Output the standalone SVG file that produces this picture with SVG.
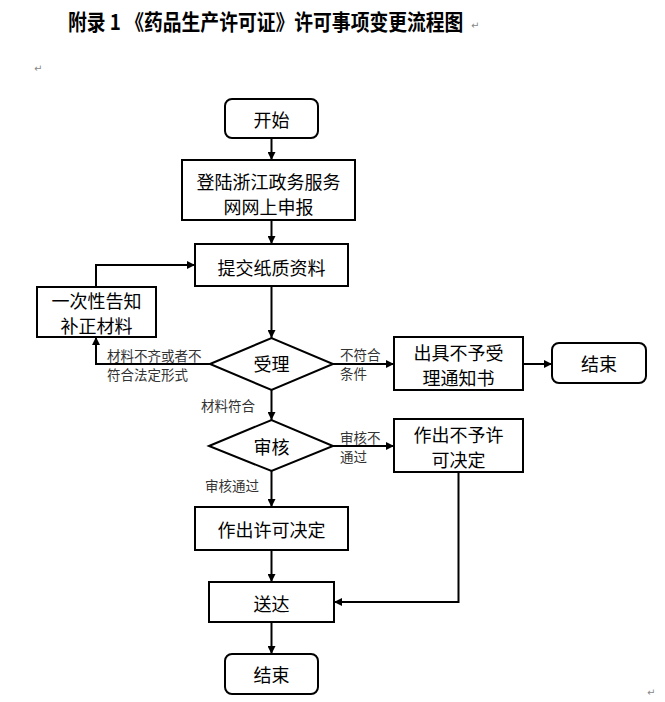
<svg xmlns="http://www.w3.org/2000/svg" width="665" height="702" viewBox="0 0 665 702">
<defs>
<marker id="ah" markerWidth="8" markerHeight="8" refX="8" refY="4" orient="auto" markerUnits="userSpaceOnUse">
<path d="M0,0 L8,4 L0,8 Z" fill="#000"/>
</marker>
<style>
.box{fill:#fff;stroke:#000;stroke-width:2}
.t{font-family:"Noto Sans CJK SC","Liberation Sans",sans-serif;font-size:18px;fill:#000;text-anchor:middle;dominant-baseline:central}
.l{font-family:"Noto Sans CJK SC","Liberation Sans",sans-serif;font-size:13.5px;fill:#333;dominant-baseline:central}
.c{fill:none;stroke:#000;stroke-width:2;marker-end:url(#ah)}
.pm{font-family:"DejaVu Sans",sans-serif;font-size:10px;fill:#888}
</style>
</defs>
<rect width="665" height="702" fill="#fff"/>
<text x="68" y="26.5" transform="scale(1,1.13)" font-family="Noto Sans CJK SC,Liberation Sans,sans-serif" font-size="18.8" font-weight="bold" fill="#000">附录 1 《药品生产许可证》许可事项变更流程图</text>
<text class="pm" x="471" y="29">↵</text>
<text class="pm" x="34" y="72">↵</text>
<text class="pm" x="647" y="696">↵</text>

<g id="connectors">
<path class="c" d="M271.5,139 V160"/>
<path class="c" d="M271.5,220 V244"/>
<path class="c" d="M271.5,286 V338"/>
<path class="c" d="M96,287 V265 H195"/>
<path class="c" d="M210,364 H96 V337"/>
<path class="c" d="M333,364 H394"/>
<path class="c" d="M523,364 H552"/>
<path class="c" d="M271.5,390 V420"/>
<path class="c" d="M333,446 H394"/>
<path class="c" d="M271.5,471 V507"/>
<path class="c" d="M271.5,550 V582"/>
<path class="c" d="M458.5,472 V602 H334"/>
<path class="c" d="M271.5,622 V654"/>
<text class="l" x="107" y="355">材料不齐或者不</text>
<text class="l" x="107" y="374">符合法定形式</text>
<text class="l" x="201" y="405">材料符合</text>
<text class="l" x="340" y="353.5">不符合</text>
<text class="l" x="340" y="372.5">条件</text>
<text class="l" x="340" y="436.5">审核不</text>
<text class="l" x="340" y="455.5">通过</text>
<text class="l" x="205" y="485">审核通过</text>
</g>

<g id="start"><rect class="box" x="225" y="99" width="93" height="39" rx="7"/><text class="t" x="271.5" y="119">开始</text></g>
<g id="login"><rect class="box" x="182" y="160" width="173" height="60"/><text class="t" x="268.5" y="181">登陆浙江政务服务</text><text class="t" x="268.5" y="206">网网上申报</text></g>
<g id="submit"><rect class="box" x="195" y="244" width="153" height="42"/><text class="t" x="271.5" y="266.5">提交纸质资料</text></g>
<g id="notify"><rect class="box" x="37" y="287" width="119" height="50"/><text class="t" x="96.5" y="299.5">一次性告知</text><text class="t" x="96.5" y="325">补正材料</text></g>
<g id="accept"><path class="box" d="M210,364 L271.5,338 L333,364 L271.5,390 Z"/><text class="t" x="271.5" y="363">受理</text></g>
<g id="reject-notice"><rect class="box" x="394" y="337" width="129" height="53"/><text class="t" x="458.5" y="352">出具不予受</text><text class="t" x="458.5" y="377">理通知书</text></g>
<g id="end-right"><rect class="box" x="552" y="343" width="94" height="40" rx="7"/><text class="t" x="599" y="363">结束</text></g>
<g id="review"><path class="box" d="M209,446 L271.5,420 L333,446 L271.5,471 Z"/><text class="t" x="271.5" y="446">审核</text></g>
<g id="deny"><rect class="box" x="394" y="419" width="129" height="53"/><text class="t" x="458.5" y="434">作出不予许</text><text class="t" x="458.5" y="459">可决定</text></g>
<g id="approve"><rect class="box" x="195" y="507" width="153" height="43"/><text class="t" x="271.5" y="529">作出许可决定</text></g>
<g id="deliver"><rect class="box" x="209" y="582" width="125" height="40"/><text class="t" x="271.5" y="603">送达</text></g>
<g id="end"><rect class="box" x="225" y="654" width="93" height="40" rx="7"/><text class="t" x="271.5" y="674">结束</text></g>
</svg>
